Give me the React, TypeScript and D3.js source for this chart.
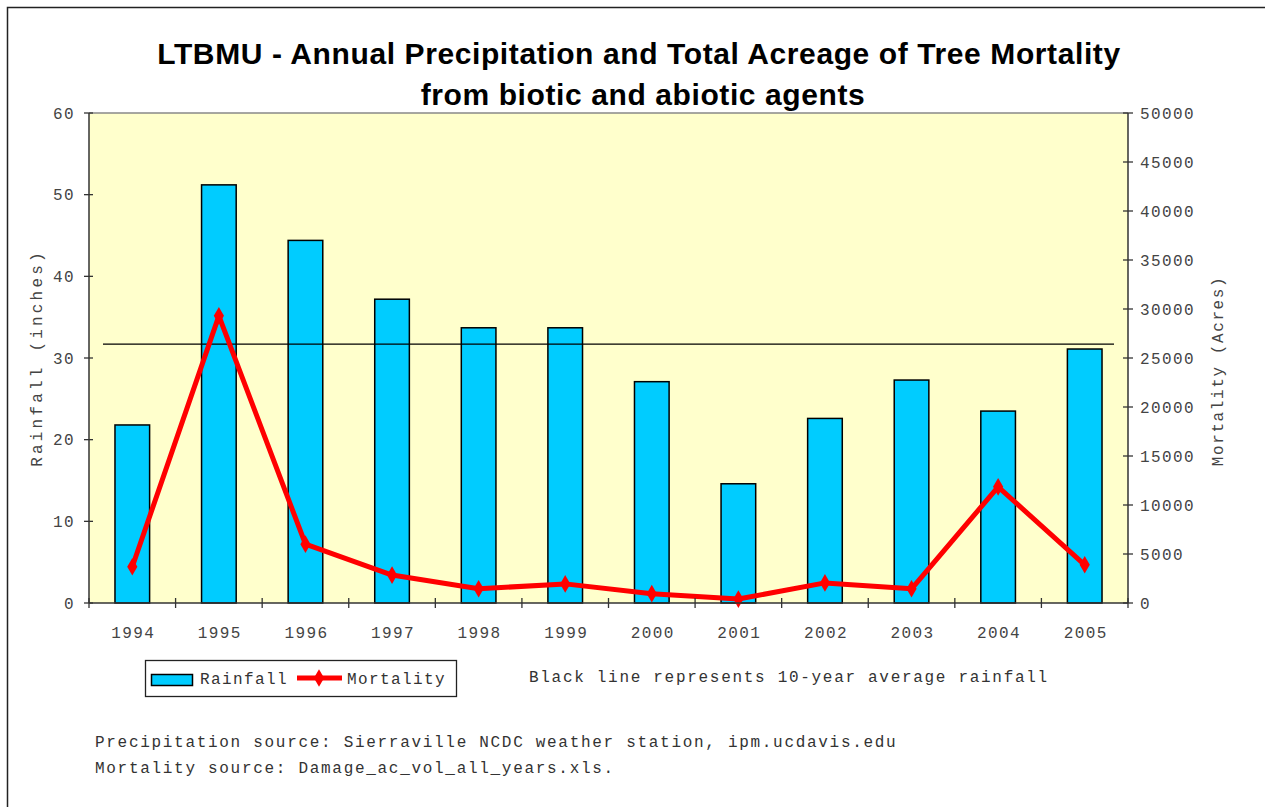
import * as d3 from 'd3';

const years = ['1994', '1995', '1996', '1997', '1998', '1999', '2000', '2001', '2002', '2003', '2004', '2005'];
const rainfall = [21.8, 51.2, 44.4, 37.2, 33.7, 33.7, 27.1, 14.6, 22.6, 27.3, 23.5, 31.1];
const mortality = [3700, 29300, 6000, 2850, 1450, 1950, 950, 400, 2050, 1450, 11850, 3900];
const averageRainfall = 31.7;
const leftTicks = [0, 10, 20, 30, 40, 50, 60];
const rightTicks = [0, 5000, 10000, 15000, 20000, 25000, 30000, 35000, 40000, 45000, 50000];

const W = 1265;
const H = 807;
const margin = { top: 113, right: 137, bottom: 204, left: 89 };
const mono = '"Liberation Mono", "Courier New", monospace';

export default function App() {
  const x0 = margin.left;
  const x1 = W - margin.right;
  const y0 = H - margin.bottom;
  const y1 = margin.top;

  const x = d3.scaleBand<string>().domain(years).range([x0, x1]).paddingInner(0.6).paddingOuter(0.3);
  const step = x.step();
  const yL = d3.scaleLinear().domain([0, 60]).range([y0, y1]);
  const yR = d3.scaleLinear().domain([0, 50000]).range([y0, y1]);

  const cx = (d: string) => (x(d) ?? 0) + x.bandwidth() / 2;
  const line = d3
    .line<number>()
    .x((_, i) => cx(years[i]))
    .y(d => yR(d));
  const diamond = d3.symbol(d3.symbolDiamond, 90)() || '';

  // category boundary ticks
  const bounds = d3.range(years.length + 1).map(i => x0 + i * step);

  return (
    <svg width={W} height={H} style={{ display: 'block', position: 'absolute', left: 0, top: 0 }}>
      <rect x={0} y={0} width={W} height={H} fill="#fff" />
      <rect x={7.5} y={7.5} width={W + 20} height={H + 20} fill="#fff" stroke="#222" strokeWidth={1.5} />

      <text x={639} y={64} textAnchor="middle" fontFamily="Arial, 'Liberation Sans', sans-serif" fontWeight="bold" fontSize={30} letterSpacing={0.6}>
        LTBMU - Annual Precipitation and Total Acreage of Tree Mortality
      </text>
      <text x={643} y={105} textAnchor="middle" fontFamily="Arial, 'Liberation Sans', sans-serif" fontWeight="bold" fontSize={30} letterSpacing={0.6}>
        from biotic and abiotic agents
      </text>

      {/* plot area */}
      <rect x={x0} y={y1} width={x1 - x0} height={y0 - y1} fill="#FFFFCC" />
      <line x1={x0} x2={x1} y1={y1} y2={y1} stroke="#888" strokeWidth={1.5} />

      {/* bars */}
      {years.map((yr, i) => (
        <rect
          key={yr}
          x={x(yr)}
          y={yL(rainfall[i])}
          width={x.bandwidth()}
          height={y0 - yL(rainfall[i])}
          fill="#00CCFF"
          stroke="#000"
          strokeWidth={1.5}
        />
      ))}

      {/* average line */}
      <line x1={x0 + 14} x2={x1 - 14} y1={yL(averageRainfall)} y2={yL(averageRainfall)} stroke="#000" strokeWidth={1.3} />

      {/* mortality */}
      <path d={line(mortality) || ''} fill="none" stroke="#FF0000" strokeWidth={5} strokeLinejoin="round" />
      {mortality.map((m, i) => (
        <path key={i} d={diamond} transform={`translate(${cx(years[i])},${yR(m)})`} fill="#FF0000" />
      ))}

      {/* axes */}
      <line x1={x0} x2={x0} y1={y1} y2={y0} stroke="#333" strokeWidth={1.5} />
      <line x1={x1} x2={x1} y1={y1} y2={y0} stroke="#333" strokeWidth={1.5} />
      <line x1={x0} x2={x1} y1={y0} y2={y0} stroke="#333" strokeWidth={1.5} />

      {leftTicks.map(t => (
        <g key={t} transform={`translate(${x0},${yL(t)})`}>
          <line x1={-5} x2={4} stroke="#333" strokeWidth={1.3} />
          <text x={-14} dy="0.35em" textAnchor="end" fontFamily={mono} fontSize={16} letterSpacing={1.4} fill="#444">
            {t}
          </text>
        </g>
      ))}
      {rightTicks.map(t => (
        <g key={t} transform={`translate(${x1},${yR(t)})`}>
          <line x1={-5} x2={5} stroke="#333" strokeWidth={1.3} />
          <text x={12} dy="0.35em" fontFamily={mono} fontSize={16} letterSpacing={1.4} fill="#444">
            {t}
          </text>
        </g>
      ))}
      {bounds.map((b, i) => (
        <line key={i} x1={b} x2={b} y1={y0 - 5} y2={y0 + 5} stroke="#333" strokeWidth={1.3} />
      ))}
      {years.map(yr => (
        <text key={yr} x={cx(yr) + 1} y={y0 + 35} textAnchor="middle" fontFamily={mono} fontSize={16} letterSpacing={1.4} fill="#444">
          {yr}
        </text>
      ))}

      <text transform={`translate(42,${(y0 + y1) / 2}) rotate(-90)`} textAnchor="middle" fontFamily={mono} fontSize={16} letterSpacing={3.2} fill="#444">
        Rainfall (inches)
      </text>
      <text transform={`translate(1223,${(y0 + y1) / 2 + 13}) rotate(-90)`} textAnchor="middle" fontFamily={mono} fontSize={16} letterSpacing={1.6} fill="#444">
        Mortality (Acres)
      </text>

      {/* legend */}
      <rect x={145.5} y={660.5} width={311} height={36} fill="#fff" stroke="#222" strokeWidth={1.3} />
      <rect x={151.5} y={674.5} width={41} height={11} fill="#00CCFF" stroke="#000" strokeWidth={1.5} />
      <text x={200} y={684} fontFamily={mono} fontSize={16} letterSpacing={1.4} fill="#333">
        Rainfall
      </text>
      <line x1={297} x2={342} y1={678} y2={678} stroke="#FF0000" strokeWidth={5} />
      <path d={diamond} transform="translate(319,678)" fill="#FF0000" />
      <text x={347} y={684} fontFamily={mono} fontSize={16} letterSpacing={1.4} fill="#333">
        Mortality
      </text>

      <text x={529} y={682} fontFamily={mono} fontSize={16} letterSpacing={1.7} fill="#333">
        Black line represents 10-year average rainfall
      </text>
      <text x={95} y={747} fontFamily={mono} fontSize={16} letterSpacing={1.7} fill="#333">
        Precipitation source: Sierraville NCDC weather station, ipm.ucdavis.edu
      </text>
      <text x={95} y={773} fontFamily={mono} fontSize={16} letterSpacing={1.7} fill="#333">
        Mortality source: Damage_ac_vol_all_years.xls.
      </text>
    </svg>
  );
}
